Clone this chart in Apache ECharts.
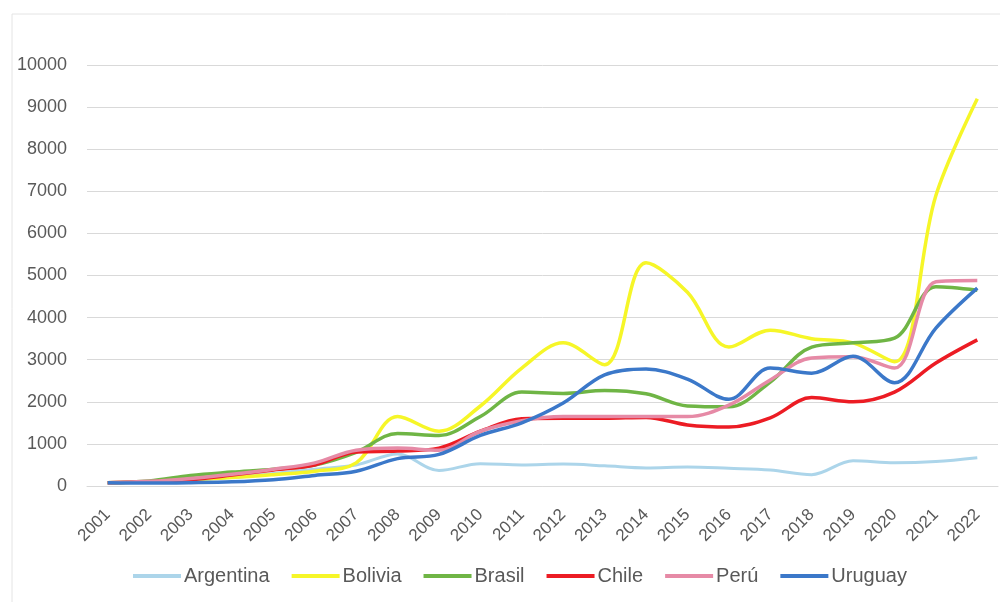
<!DOCTYPE html>
<html style="height: 100%">
  <head>
    <meta charset="utf-8" />
  </head>
  <body style="height: 100%; margin: 0; background: #fff">
    <div id="container" style="width: 1000px; height: 602px"></div>
    <script type="text/javascript" src="https://cdn.jsdelivr.net/npm/echarts@6/dist/echarts.min.js"></script>
    <script type="text/javascript">
      var years = ['2001', '2002', '2003', '2004', '2005', '2006', '2007', '2008', '2009', '2010', '2011',
        '2012', '2013', '2014', '2015', '2016', '2017', '2018', '2019', '2020', '2021', '2022'];

      var argentina = [80, 100, 150, 200, 300, 400, 500, 760, 370, 530, 500, 520, 480, 430, 450, 420, 380, 270, 600, 550, 580, 670];
      var bolivia = [80, 100, 150, 200, 270, 350, 550, 1650, 1300, 1900, 2800, 3400, 2880, 5300, 4600, 3300, 3700, 3500, 3400, 2950, 6900, 9200];
      var brasil = [80, 120, 250, 330, 400, 500, 800, 1250, 1200, 1650, 2230, 2200, 2270, 2190, 1900, 1880, 2470, 3300, 3400, 3510, 4730, 4650];
      var chile = [80, 100, 150, 260, 380, 500, 810, 830, 900, 1300, 1600, 1610, 1610, 1630, 1450, 1400, 1620, 2100, 2000, 2230, 2920, 3470];
      var peru = [80, 110, 180, 280, 400, 550, 850, 900, 850, 1300, 1550, 1650, 1650, 1650, 1650, 1920, 2520, 3040, 3070, 2800, 4850, 4880];
      var uruguay = [80, 70, 80, 100, 150, 250, 350, 650, 750, 1200, 1500, 1970, 2640, 2780, 2540, 2060, 2800, 2680, 3080, 2450, 3750, 4700];

      var names = ['Argentina', 'Bolivia', 'Brasil', 'Chile', 'Perú', 'Uruguay'];
      var colors = ['#acd5ea', '#f6f628', '#6fb545', '#ec1c24', '#e68aa6', '#3b78c9'];
      var values = [argentina, bolivia, brasil, chile, peru, uruguay];

      var myChart = echarts.init(document.getElementById('container'));

      var series = names.map(function (n, i) {
        return {
          name: n,
          type: 'line',
          data: values[i],
          smooth: 0.35,
          symbol: 'none',
          lineStyle: { width: i === 0 ? 3 : 3.5, color: colors[i] },
          itemStyle: { color: colors[i] }
        };
      });

      var option = {
        animation: false,
        backgroundColor: '#fff',
        color: colors,
        graphic: [{
          type: 'rect',
          shape: { x: 12, y: 14, width: 1000, height: 600 },
          style: { fill: 'none', stroke: '#e4e4e4', lineWidth: 1 }
        }],
        grid: { left: 87, right: 2, top: 65, bottom: 116 },
        legend: {
          top: 561,
          left: 128,
          itemWidth: 48,
          itemHeight: 4,
          itemGap: 22,
          icon: 'rect',
          textStyle: { color: '#595959', fontSize: 20, padding: [0, 0, 0, -2], fontFamily: 'Liberation Sans Narrow, Liberation Sans, sans-serif' }
        },
        xAxis: {
          type: 'category',
          data: years,
          boundaryGap: true,
          axisLine: { lineStyle: { color: '#d9d9d9' } },
          axisTick: { show: false },
          axisLabel: { rotate: 45, color: '#595959', fontSize: 17, margin: 26, interval: 0, fontFamily: 'Liberation Sans, sans-serif' }
        },
        yAxis: {
          type: 'value',
          min: 0,
          max: 10000,
          interval: 1000,
          axisLine: { show: false },
          axisTick: { show: false },
          splitLine: { lineStyle: { color: '#d9d9d9' } },
          axisLabel: {
            color: '#595959', fontSize: 18, margin: 20, fontFamily: 'Liberation Sans, sans-serif',
            formatter: function (v) { return String(v); }
          }
        },
        series: series
      };

      myChart.setOption(option);
    </script>
  </body>
</html>
